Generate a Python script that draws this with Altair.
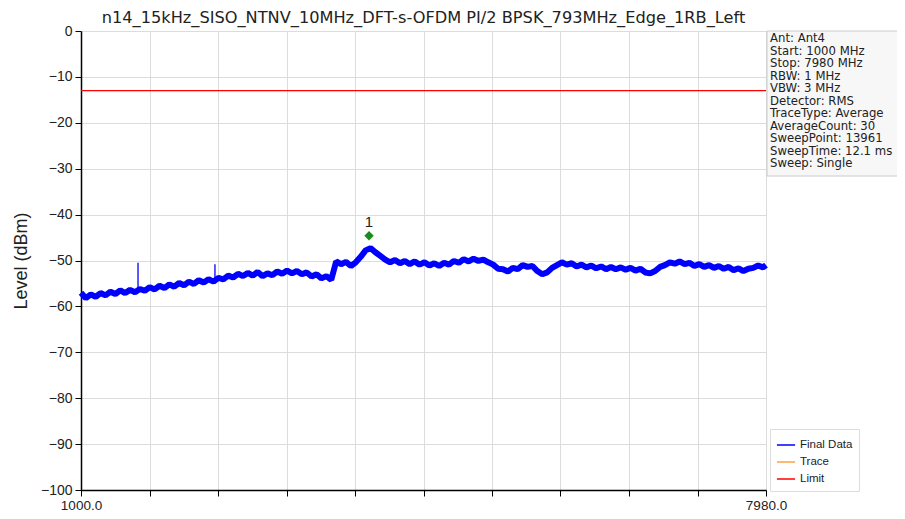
import altair as alt
import pandas as pd

title_text = "n14_15kHz_SISO_NTNV_10MHz_DFT-s-OFDM PI/2 BPSK_793MHz_Edge_1RB_Left"

start_mhz = 1000.0
stop_mhz = 7980.0
step_mhz = 50.0

# Final Data trace levels (dBm), one per step from start, last point at stop
levels = [
    -57.0, -58.2, -57.4, -57.9, -57.1, -57.6, -56.8, -57.3, -56.5, -57.1,
    -56.4, -56.9, -56.2, -56.6, -55.8, -56.3, -55.5, -56.0, -55.2, -55.7,
    -54.9, -55.4, -54.6, -55.1, -54.3, -54.8, -54.1, -54.6, -53.8, -54.1,
    -53.3, -53.7, -52.9, -53.4, -52.7, -53.3, -52.5, -53.4, -52.8, -53.2,
    -52.4, -52.9, -52.2, -52.8, -52.3, -53.0, -52.6, -53.5, -53.0, -53.9,
    -53.4, -54.2, -50.2, -50.8, -50.3, -51.2, -50.4, -49.2, -47.8, -47.3,
    -48.2, -49.0, -49.8, -50.4, -49.9, -50.6, -50.1, -50.8, -50.2, -50.9,
    -50.4, -51.1, -50.6, -51.2, -50.5, -50.9, -50.1, -50.5, -49.7, -50.2,
    -49.6, -50.1, -49.8, -50.4, -50.9, -51.8, -51.9, -52.4, -51.6, -51.9,
    -51.0, -51.4, -51.2, -52.3, -53.0, -52.6, -51.6, -51.0, -50.4, -50.9,
    -50.6, -51.3, -50.9, -51.5, -51.1, -51.7, -51.3, -51.9, -51.4, -51.9,
    -51.5, -52.0, -51.6, -52.2, -51.8, -52.6, -52.8, -52.3, -51.4, -51.0,
    -50.4, -50.7, -50.2, -50.8, -50.5, -51.2, -50.8, -51.4, -51.0, -51.6,
    -51.2, -51.8, -51.4, -52.1, -51.7, -52.3, -51.8, -51.6, -51.1, -51.5,
    -51.0,
]

spike_freqs = [1581.0, 2365.0]
spike_tops = [-50.5, -50.8]
spike_bases = [-56.3, -54.4]

limit_level = -13.0

marker_freq = 3935.0
marker_level = -44.6
marker_label = "1"

info_lines = [
    "Ant: Ant4",
    "Start: 1000 MHz",
    "Stop: 7980 MHz",
    "RBW: 1 MHz",
    "VBW: 3 MHz",
    "Detector: RMS",
    "TraceType: Average",
    "AverageCount: 30",
    "SweepPoint: 13961",
    "SweepTime: 12.1 ms",
    "Sweep: Single",
]

legend_labels = ["Final Data", "Trace", "Limit"]
legend_colors = ["#0000ff", "#ffa040", "#ff0000"]

y_ticks = [0, -10, -20, -30, -40, -50, -60, -70, -80, -90, -100]

# ---------------------------------------------------------------
n = len(levels)
freqs = [start_mhz + step_mhz * i for i in range(n - 1)] + [stop_mhz]
trace_df = pd.DataFrame({"freq": freqs, "level": levels, "series": "Final Data"})
limit_df = pd.DataFrame({"freq": [start_mhz, stop_mhz], "level": [limit_level] * 2, "series": "Limit"})
spike_df = pd.DataFrame({"freq": spike_freqs, "top": spike_tops, "base": spike_bases})
marker_df = pd.DataFrame({"freq": [marker_freq], "level": [marker_level], "label": [marker_label]})

x_ticks = [start_mhz + (stop_mhz - start_mhz) * k / 10 for k in range(11)]

xs = alt.Scale(domain=[start_mhz, stop_mhz], nice=False, zero=False)
ys = alt.Scale(domain=[-100, 0], nice=False)
cs = alt.Scale(domain=legend_labels, range=legend_colors)

x_axis = alt.Axis(
    values=x_ticks,
    labelExpr="(datum.value == 1000 || datum.value == 7980) ? format(datum.value, '.1f') : ''",
    title=None, grid=True, gridColor="#dcdcdc", gridWidth=1,
    tickSize=6, tickColor="black", domainColor="black", domainWidth=1.5,
    labelFontSize=13.5, labelColor="#222222", labelFont="Liberation Sans", labelPadding=2,
    labelFlush=False,
)
y_axis = alt.Axis(
    values=y_ticks, title="Level (dBm)", titleFontSize=18, titleFont="Liberation Sans",
    titleFontWeight="normal", titleColor="#222222", titlePadding=10,
    grid=True, gridColor="#dcdcdc", gridWidth=1,
    tickSize=6, tickColor="black", domainColor="black", domainWidth=1.5,
    labelFontSize=14, labelColor="#222222", labelFont="Liberation Sans", labelPadding=3,
)

legend = alt.Legend(
    title=None, orient="none", legendX=689, legendY=398,
    fillColor="white", strokeColor="#dddddd", padding=6,
    labelFontSize=11.5, labelFont="Liberation Sans", labelColor="#222222",
    symbolType="stroke", symbolSize=330, symbolStrokeWidth=1.5, rowPadding=1,
    values=legend_labels,
)

trace = alt.Chart(trace_df).mark_line(strokeWidth=6, strokeJoin="bevel").encode(
    x=alt.X("freq:Q", scale=xs, axis=x_axis),
    y=alt.Y("level:Q", scale=ys, axis=y_axis),
    color=alt.Color("series:N", scale=cs, legend=legend),
)

limit = alt.Chart(limit_df).mark_line(strokeWidth=1.2).encode(
    x=alt.X("freq:Q", scale=xs),
    y=alt.Y("level:Q", scale=ys),
    color=alt.Color("series:N", scale=cs, legend=legend),
)

spikes = alt.Chart(spike_df).mark_rule(color="#0000ff", strokeWidth=1.3).encode(
    x=alt.X("freq:Q", scale=xs),
    y=alt.Y("top:Q", scale=ys),
    y2="base:Q",
)

marker = alt.Chart(marker_df).mark_point(shape="diamond", filled=True, color="#1a8a1a", size=90, opacity=1).encode(
    x=alt.X("freq:Q", scale=xs), y=alt.Y("level:Q", scale=ys),
)
marker_text = alt.Chart(marker_df).mark_text(dy=-14, fontSize=15, font="Liberation Sans", color="#222222").encode(
    x=alt.X("freq:Q", scale=xs), y=alt.Y("level:Q", scale=ys), text="label:N",
)

info_df = pd.DataFrame({"t": ["info"]})
info_box = alt.Chart(info_df).mark_rect(fill="#f7f7f7", stroke="#cccccc", strokeWidth=1).encode(
    x=alt.value(686), x2=alt.value(822), y=alt.value(0), y2=alt.value(145),
)
info_text = alt.Chart(info_df).mark_text(
    text=info_lines, align="left", baseline="top", fontSize=11.7, lineHeight=12.5,
    font="DejaVu Sans", color="#222222",
).encode(x=alt.value(689), y=alt.value(2))

chart = alt.layer(info_box, info_text, limit, trace, spikes, marker, marker_text).properties(
    width=685, height=459,
    title=alt.TitleParams(title_text, fontSize=16.2, font="DejaVu Sans", fontWeight="normal",
                          color="#222222", anchor="middle", offset=-2),
    autosize=alt.AutoSizeParams(type="none"),
    padding={"left": 73, "top": 23, "right": 131, "bottom": 21},
).configure_view(stroke="black", strokeWidth=1.5).configure(background="white")

chart.save("out.html", embed_options={"renderer": "svg", "actions": False})
